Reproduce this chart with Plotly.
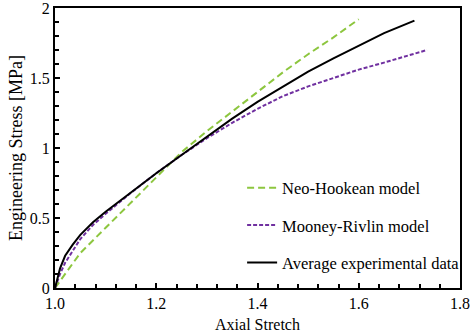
import plotly.graph_objects as go

# Data
neo_x = [1.0, 1.02, 1.05, 1.1, 1.15, 1.2, 1.25, 1.3, 1.35, 1.4, 1.45, 1.5, 1.55, 1.6]
neo_y = [0.0, 0.10, 0.25, 0.43, 0.61, 0.79, 0.97, 1.12, 1.26, 1.40, 1.54, 1.67, 1.79, 1.92]

mr_x = [1.0, 1.01, 1.02, 1.035, 1.05, 1.075, 1.1, 1.15, 1.2, 1.25, 1.3, 1.35, 1.4, 1.45, 1.5, 1.55, 1.6, 1.65, 1.7, 1.735]
mr_y = [0.0, 0.10, 0.18, 0.27, 0.35, 0.45, 0.53, 0.68, 0.82, 0.95, 1.07, 1.18, 1.28, 1.37, 1.44, 1.50, 1.56, 1.61, 1.66, 1.70]

exp_x = [1.0, 1.005, 1.01, 1.02, 1.035, 1.05, 1.075, 1.1, 1.15, 1.2, 1.25, 1.3, 1.35, 1.4, 1.45, 1.5, 1.55, 1.6, 1.65, 1.71]
exp_y = [0.0, 0.08, 0.14, 0.23, 0.31, 0.38, 0.47, 0.545, 0.685, 0.82, 0.95, 1.08, 1.21, 1.33, 1.44, 1.545, 1.64, 1.73, 1.82, 1.91]

x_ticks = [1.0, 1.2, 1.4, 1.6, 1.8]
x_tick_labels = ["1.0", "1.2", "1.4", "1.6", "1.8"]
y_ticks = [0, 0.5, 1, 1.5, 2]
y_tick_labels = ["0", "0.5", "1", "1.5", "2"]

FONT = "Liberation Serif, Times New Roman, serif"

fig = go.Figure()
fig.add_trace(go.Scatter(x=neo_x, y=neo_y, mode="lines", name="Neo-Hookean model",
                         legendgroup="a",
                         line=dict(color="#8DC63F", width=2, dash="7px,4px")))
fig.add_trace(go.Scatter(x=mr_x, y=mr_y, mode="lines", name="Mooney-Rivlin model",
                         legendgroup="b",
                         line=dict(color="#7030A0", width=2, dash="4px,2px")))
fig.add_trace(go.Scatter(x=exp_x, y=exp_y, mode="lines", name="Average experimental data",
                         legendgroup="c",
                         line=dict(color="black", width=2)))

fig.update_layout(
    width=472, height=333,
    margin=dict(l=55, r=7, t=8, b=45),
    paper_bgcolor="white", plot_bgcolor="white",
    font=dict(family=FONT, size=16, color="black"),
    showlegend=True,
    legend=dict(x=0.462, y=0.42, xanchor="left", yanchor="top",
                bgcolor="rgba(0,0,0,0)", tracegroupgap=13,
                font=dict(family=FONT, size=16.5), itemwidth=30),
)
fig.update_xaxes(range=[1.0, 1.8], tickvals=x_ticks, ticktext=x_tick_labels,
                 automargin=False, ticklabeloverflow="allow",
                 showgrid=False, zeroline=False,
                 showline=True, linecolor="black", linewidth=2, mirror=True,
                 ticks="inside", ticklen=5, tickwidth=1.5, tickcolor="black",
                 minor=dict(dtick=0.04, tick0=1.0, ticks="inside", ticklen=4, tickwidth=1.5, tickcolor="black"),
                 title=dict(text="Axial Stretch", standoff=8, font=dict(size=16)))
fig.update_yaxes(range=[0, 2], tickvals=y_ticks, ticktext=y_tick_labels,
                 automargin=False, ticklabeloverflow="allow",
                 showgrid=False, zeroline=False,
                 showline=True, linecolor="black", linewidth=2, mirror=True,
                 ticks="inside", ticklen=5, tickwidth=1.5, tickcolor="black",
                 minor=dict(dtick=0.1, tick0=0, ticks="inside", ticklen=4, tickwidth=1.5, tickcolor="black"),
                 title=dict(text="Engineering Stress [MPa]", standoff=2, font=dict(size=18)))

fig.write_html("out.html", config={"displayModeBar": False},
               post_script="document.body.style.margin='0';document.body.style.overflow='hidden';")
